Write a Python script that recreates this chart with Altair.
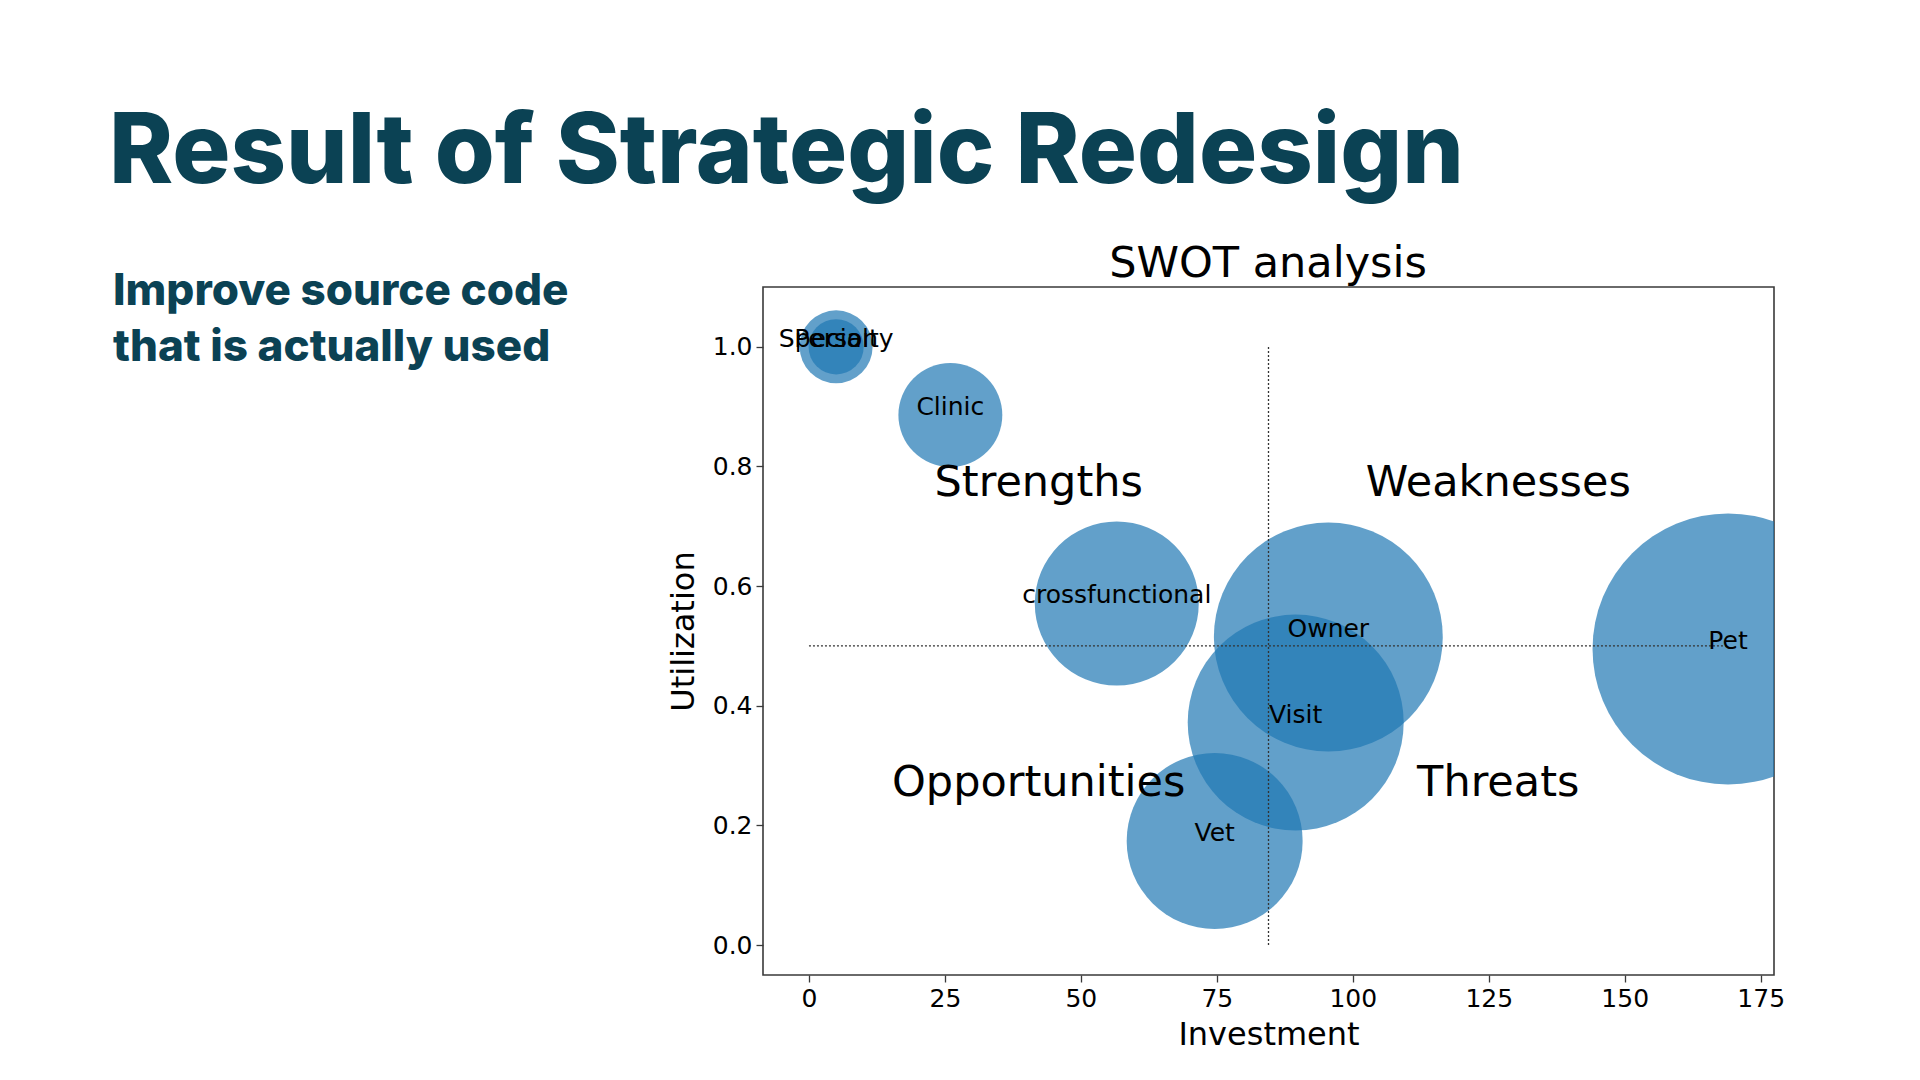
import altair as alt
import pandas as pd

# Bubble data
names = ["Specialty", "Person", "Clinic", "crossfunctional", "Owner", "Visit", "Vet", "Pet"]
investment = [5, 5, 26, 56.6, 95.5, 89.5, 74.6, 169]
utilization = [1.0, 1.0, 0.886, 0.571, 0.515, 0.372, 0.174, 0.495]
weight = [1330, 760, 2700, 6720, 13100, 11660, 7740, 18360]

# Quadrant labels
quad_labels = ["Strengths", "Weaknesses", "Opportunities", "Threats"]
quad_x = [42.25, 126.75, 42.25, 126.75]
quad_y = [0.75, 0.75, 0.25, 0.25]

# Reference lines
hline_x = [0, 169]
hline_y = 0.5
vline_x = 84.5
vline_y = [0, 1.0]

x_ticks = [0, 25, 50, 75, 100, 125, 150, 175]
y_ticks = [0.0, 0.2, 0.4, 0.6, 0.8, 1.0]

chart_title = "SWOT analysis"
slide_title = "Result of Strategic Redesign"
slide_sub = ["Improve source code", "that is actually used"]

TEAL = "#0b4254"
FONT = "DejaVu Sans"
SLIDE_FONT = "Inter"

bubbles = pd.DataFrame({"name": names, "x": investment, "y": utilization, "w": weight})
quads = pd.DataFrame({"label": quad_labels, "x": quad_x, "y": quad_y})
hline = pd.DataFrame({"x": [hline_x[0]], "x2": [hline_x[1]], "y": [hline_y]})
vline = pd.DataFrame({"x": [vline_x], "y": [vline_y[0]], "y2": [vline_y[1]]})
one = pd.DataFrame({"k": [0]})

xscale = alt.Scale(domain=[-8.45, 177.45], nice=False, zero=False)
yscale = alt.Scale(domain=[-0.05, 1.10], nice=False, zero=False)

xaxis = alt.Axis(title="Investment", values=x_ticks, format="d", grid=False)
yaxis = alt.Axis(title="Utilization", values=y_ticks, format=".1f", grid=False)

circles = alt.Chart(bubbles).mark_circle(color="#1f77b4", opacity=0.7, clip=True).encode(
    x=alt.X("x:Q", scale=xscale, axis=xaxis),
    y=alt.Y("y:Q", scale=yscale, axis=yaxis),
    size=alt.Size("w:Q", scale=alt.Scale(type="linear", domain=[0, 10000], range=[0, 40000]), legend=None),
)

labels = alt.Chart(bubbles).mark_text(
    font=FONT, fontSize=25, color="black", align="center", baseline="alphabetic"
).encode(x="x:Q", y="y:Q", text="name:N")

h_rule = alt.Chart(hline).mark_rule(color="#333333", strokeWidth=1.3, strokeDash=[2, 2]).encode(
    x="x:Q", x2="x2:Q", y="y:Q"
)
v_rule = alt.Chart(vline).mark_rule(color="#333333", strokeWidth=1.3, strokeDash=[2, 2]).encode(
    x="x:Q", y="y:Q", y2="y2:Q"
)

quad_text = alt.Chart(quads).mark_text(
    font=FONT, fontSize=43, color="black", align="center", baseline="alphabetic"
).encode(x="x:Q", y="y:Q", text="label:N")

swot_title = alt.Chart(one).mark_text(
    font=FONT, fontSize=43, color="black", align="center", baseline="alphabetic"
).encode(x=alt.value(505), y=alt.value(-10), text=alt.value(chart_title))

title_text = alt.Chart(one).mark_text(
    font=SLIDE_FONT, fontSize=97, fontWeight=800, color=TEAL, align="left", baseline="alphabetic"
).encode(x=alt.value(-654), y=alt.value(-104), text=alt.value(slide_title))

sub_text = alt.Chart(one).mark_text(
    font=SLIDE_FONT, fontSize=44, fontWeight=800, color=TEAL, align="left", baseline="alphabetic",
    lineHeight=56,
).encode(x=alt.value(-650), y=alt.value(18), text=alt.value(slide_sub))

chart = alt.layer(
    circles, h_rule, v_rule, labels, quad_text, swot_title, title_text, sub_text
).properties(
    width=1011,
    height=688,
    autosize=alt.AutoSizeParams(type="none"),
    padding={"left": 755, "top": 279, "right": 130, "bottom": 90},
).configure_view(
    stroke="#3a3a3a", strokeWidth=1.6
).configure_axis(
    labelFont=FONT, labelFontSize=25, labelColor="black",
    titleFont=FONT, titleFontSize=32, titleColor="black", titleFontWeight="normal",
    tickColor="#3a3a3a", tickWidth=1.3, tickSize=7, labelPadding=4,
    domain=False,
).configure_axisX(titlePadding=8).configure_axisY(titlePadding=12)

chart.save("out.html", embed_options={"renderer": "svg", "actions": False})
